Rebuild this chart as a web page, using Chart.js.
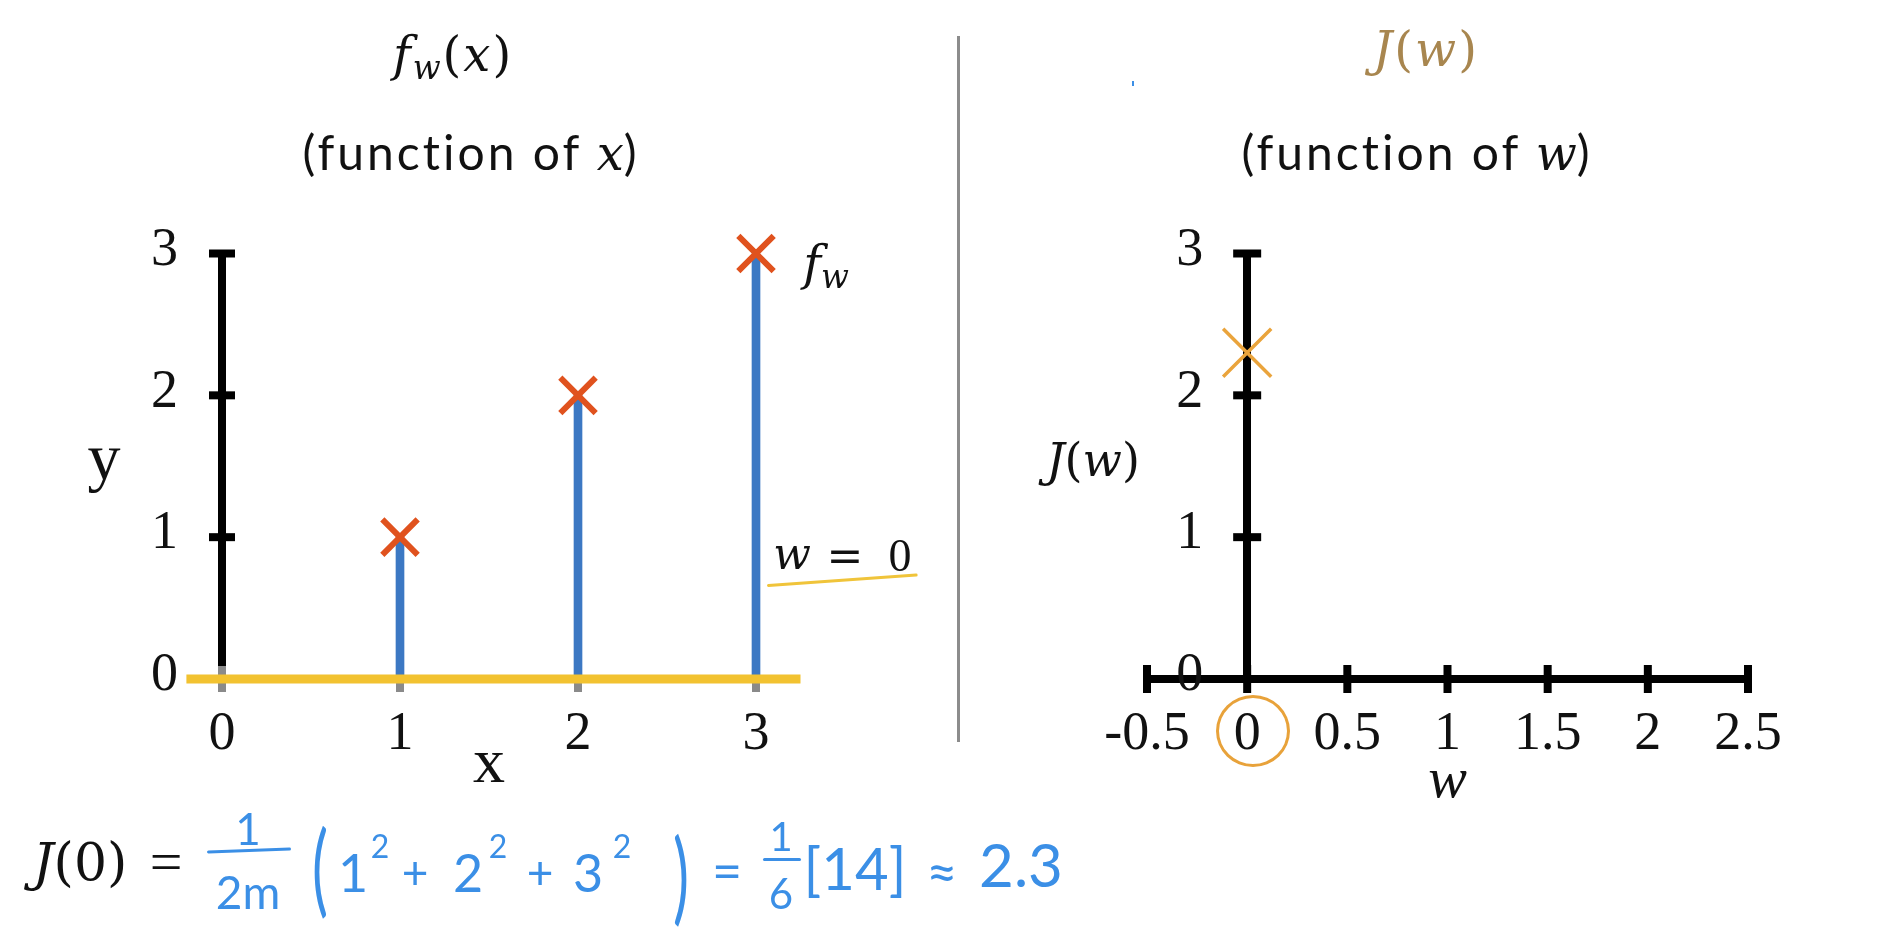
<!DOCTYPE html>
<html><head><meta charset="utf-8">
<script src="https://cdn.jsdelivr.net/npm/chart.js@4.4.1/dist/chart.umd.min.js"></script>
<style>
html,body{margin:0;padding:0;background:#fff;width:1884px;height:936px;overflow:hidden;}
#stage{position:relative;width:1884px;height:936px;}
.wrap{position:absolute;top:0;}
.t{position:absolute;transform:translate(-50%,-50%);white-space:nowrap;line-height:1;color:#111;font-variant-ligatures:none;}
.serif{font-family:"Liberation Serif","DejaVu Serif",serif;}
.math{font-family:"DejaVu Serif","Liberation Serif",serif;}
.sans{font-family:Lato,"Open Sans",sans-serif;letter-spacing:3px;}
.hand{font-family:Lato,"Open Sans",sans-serif;color:#3b8fe6;}
.bar{position:absolute;background:#3b8fe6;height:3px;border-radius:2px;}
</style></head>
<body><div id="stage">
<div class="wrap" style="left:0;width:950px;height:936px"><canvas id="left" width="950" height="936"></canvas></div>
<div class="wrap" style="left:950px;width:934px;height:936px"><canvas id="right" width="934" height="936"></canvas></div>

<!-- titles -->
<div class="t math" style="left:453px;top:54px;font-size:48px;letter-spacing:2px"><i>f</i><i style="font-size:0.68em;position:relative;top:0.25em">w</i>(<i>x</i>)</div>
<div class="t sans" style="left:471px;top:152px;font-size:48px">(function of <i class="math" style="letter-spacing:0">x</i>)</div>
<div class="t math" style="left:1426px;top:49px;font-size:48px;letter-spacing:2px;color:#a8864f"><i>J</i>(<i>w</i>)</div>
<div class="t sans" style="left:1417px;top:152px;font-size:48px">(function of <i class="math" style="letter-spacing:0">w</i>)</div>

<!-- axis titles (vertical axes) -->
<div class="t serif" style="left:104px;top:457px;font-size:66px">y</div>
<div class="t math" style="left:1093px;top:460px;font-size:46px"><i>J</i>(<i>w</i>)</div>

<!-- annotations -->
<div class="t math" style="left:826px;top:263px;font-size:48px"><i>f</i><i style="font-size:0.68em;position:relative;top:0.25em">w</i></div>
<div class="t math" style="left:792px;top:554px;font-size:44px"><i>w</i></div>
<div class="t math" style="left:845px;top:556px;font-size:44px">=</div>
<div class="t serif" style="left:900px;top:556px;font-size:46px">0</div>
<div style="position:absolute;left:767px;top:584px;width:151px;height:3px;background:#f0c43a;border-radius:2px;transform:rotate(-4deg);transform-origin:0 50%"></div>
<div style="position:absolute;left:957px;top:36px;width:3px;height:706px;background:#8c8c8c"></div>
<div style="position:absolute;left:1216px;top:695px;width:68px;height:66px;border:3px solid #e8a23a;border-radius:50%"></div>
<div style="position:absolute;left:1132px;top:81px;width:2px;height:5px;background:#3b8fe6"></div>

<!-- formula -->
<div class="t math" style="left:80px;top:862px;font-size:52px"><i>J</i>(0)</div>
<div class="t serif" style="left:166px;top:862px;font-size:58px">=</div>
<div class="t hand" style="left:248px;top:828px;font-size:44px">1</div>
<div class="bar" style="left:207px;top:849px;width:84px;transform:rotate(-2deg)"></div>
<div class="t hand" style="left:248px;top:892px;font-size:46px">2m</div>
<div class="t hand" style="left:320px;top:865px;font-size:100px;transform:translate(-50%,-50%) scaleX(0.6)">(</div>
<div class="t hand" style="left:353px;top:872px;font-size:52px">1</div>
<div class="t hand" style="left:380px;top:846px;font-size:32px">2</div>
<div class="t hand" style="left:415px;top:872px;font-size:46px">+</div>
<div class="t hand" style="left:468px;top:872px;font-size:52px">2</div>
<div class="t hand" style="left:498px;top:846px;font-size:32px">2</div>
<div class="t hand" style="left:540px;top:872px;font-size:46px">+</div>
<div class="t hand" style="left:588px;top:872px;font-size:52px">3</div>
<div class="t hand" style="left:622px;top:846px;font-size:32px">2</div>
<div class="t hand" style="left:681px;top:873px;font-size:100px;transform:translate(-50%,-50%) scaleX(0.6)">)</div>
<div class="t hand" style="left:727px;top:870px;font-size:52px">=</div>
<div class="t hand" style="left:781px;top:836px;font-size:40px">1</div>
<div class="bar" style="left:763px;top:858px;width:38px"></div>
<div class="t hand" style="left:781px;top:893px;font-size:42px">6</div>
<div class="t hand" style="left:855px;top:868px;font-size:58px">[14]</div>
<div class="t hand" style="left:942px;top:871px;font-size:54px">≈</div>
<div class="t hand" style="left:1021px;top:864px;font-size:60px">2.3</div>
</div>

<script>
// ---------- data ----------
const xTickValues = [0, 1, 2, 3];
const yTickValues = [0, 1, 2, 3];
const trainX = [1, 2, 3];
const trainY = [1, 2, 3];
const modelLineX = [-0.2, 3.25];   // f_w(x) for w = 0
const modelLineY = [0, 0];
const wTickValues = [-0.5, 0, 0.5, 1, 1.5, 2, 2.5];
const wTickLabels = ['-0.5', '0', '0.5', '1', '1.5', '2', '2.5'];
const jTickValues = [0, 1, 2, 3];
const costW = [0];
const costJ = [2.3];

// ---------- helpers ----------
const SERIF = '"Liberation Serif","DejaVu Serif",serif';
const tickFont = {family: SERIF, size: 54};
const setTicks = vals => scale => { scale.ticks = vals.map(v => ({value: v})); };

// draws the crossing tick marks and the labels of the y axis that sits at x = 0
const crossTicks = {
  id: 'crossTicks',
  beforeDatasetsDraw(chart, args, opts) {
    const ctx = chart.ctx, xs = chart.scales.x, ys = chart.scales.y;
    const x0 = xs.getPixelForValue(0), y0 = ys.getPixelForValue(0);
    ctx.save();
    ctx.lineCap = 'butt';
    if (opts.y) {
      ctx.strokeStyle = opts.y.color; ctx.lineWidth = opts.y.width;
      ys.ticks.forEach(t => {
        const py = ys.getPixelForValue(t.value);
        ctx.beginPath(); ctx.moveTo(x0 - opts.y.half, py); ctx.lineTo(x0 + opts.y.half, py); ctx.stroke();
      });
      ctx.fillStyle = opts.y.labelColor;
      ctx.font = Chart.helpers.toFont(ys.options.ticks.font).string;
      ctx.textAlign = 'right'; ctx.textBaseline = 'middle';
      ys.ticks.forEach(t => {
        const py = ys.getPixelForValue(t.value);
        const txt = (t.label !== undefined && t.label !== '') ? t.label : String(t.value);
        ctx.fillText(txt, x0 - opts.y.labelGap, py + opts.y.labelDy);
      });
    }
    if (opts.x) {
      ctx.strokeStyle = opts.x.color; ctx.lineWidth = opts.x.width;
      xs.ticks.forEach(t => {
        const px = xs.getPixelForValue(t.value);
        ctx.beginPath(); ctx.moveTo(px, y0 - opts.x.half); ctx.lineTo(px, y0 + opts.x.half); ctx.stroke();
      });
    }
    ctx.restore();
  }
};

const yAxisAtZero = vals => ({
  type: 'linear', position: {x: 0}, min: 0, max: 3,
  afterBuildTicks: setTicks(vals),
  border: {display: true, color: '#000', width: 8},
  grid: {display: true, drawOnChartArea: false, drawTicks: false},
  ticks: {display: false, font: tickFont}
});

// ---------- left chart: f_w(x) ----------
new Chart(document.getElementById('left'), {
  type: 'scatter',
  data: {
    datasets: [
      {type: 'bar', data: trainX.map((x, i) => ({x, y: trainY[i]})), backgroundColor: '#3c78c3',
       barThickness: 8, order: 3},
      {type: 'line', data: modelLineX.map((x, i) => ({x, y: modelLineY[i]})), borderColor: '#f2c230',
       borderWidth: 9, pointRadius: 0, clip: false, order: 2, borderCapStyle: 'butt'},
      {type: 'scatter', data: trainX.map((x, i) => ({x, y: trainY[i]})), pointStyle: 'crossRot',
       pointRadius: 25, borderWidth: 6, borderColor: '#e0521e', backgroundColor: '#e0521e', clip: false, order: 1}
    ]
  },
  options: {
    responsive: false, animation: false, events: [],
    layout: {padding: {top: 253.5, left: 168.6, right: 140.6, bottom: 132}},
    plugins: {legend: {display: false}, tooltip: {enabled: false},
      crossTicks: {y: {color: '#000', width: 8, half: 13, labelColor: '#111', labelGap: 44, labelDy: -3},
                   x: {color: '#8a8a8a', width: 8, half: 13}}},
    scales: {
      x: {type: 'linear', position: 'bottom', min: -0.3, max: 3.3, offset: false,
        afterBuildTicks: setTicks(xTickValues),
        afterFit: s => { s.height = 125; },
        border: {display: false}, grid: {display: false, drawTicks: false},
        ticks: {font: tickFont, color: '#111', padding: 23, maxRotation: 0, autoSkip: false},
        title: {display: true, text: 'x', font: {family: SERIF, size: 64}, color: '#111', padding: 0}},
      y: yAxisAtZero(yTickValues)
    }
  },
  plugins: [crossTicks]
});

// ---------- right chart: J(w) ----------
new Chart(document.getElementById('right'), {
  type: 'scatter',
  data: {
    datasets: [
      {type: 'scatter', data: costW.map((w, i) => ({x: w, y: costJ[i]})), pointStyle: 'crossRot',
       pointRadius: 34, borderWidth: 3.5, borderColor: '#eaa43c', backgroundColor: '#eaa43c', clip: false}
    ]
  },
  options: {
    responsive: false, animation: false, events: [],
    layout: {padding: {top: 253.5, left: 197, right: 136, bottom: 119.2}},
    plugins: {legend: {display: false}, tooltip: {enabled: false},
      crossTicks: {y: {color: '#000', width: 8, half: 14, labelColor: '#111', labelGap: 44, labelDy: -3},
                   x: {color: '#000', width: 8, half: 14}}},
    scales: {
      x: {type: 'linear', position: 'bottom', min: -0.5, max: 2.5, offset: false,
        afterBuildTicks: setTicks(wTickValues),
        afterFit: s => { s.height = 137.8; },
        border: {display: true, color: '#000', width: 8},
        grid: {display: true, drawOnChartArea: false, drawTicks: false},
        ticks: {font: tickFont, color: '#111', padding: 23, maxRotation: 0, autoSkip: false,
          callback: (v, i) => wTickLabels[i]},
        title: {display: true, text: 'w', font: {family: SERIF, size: 58, style: 'italic'}, color: '#111', padding: 0}},
      y: yAxisAtZero(jTickValues)
    }
  },
  plugins: [crossTicks]
});
</script>
</body></html>
